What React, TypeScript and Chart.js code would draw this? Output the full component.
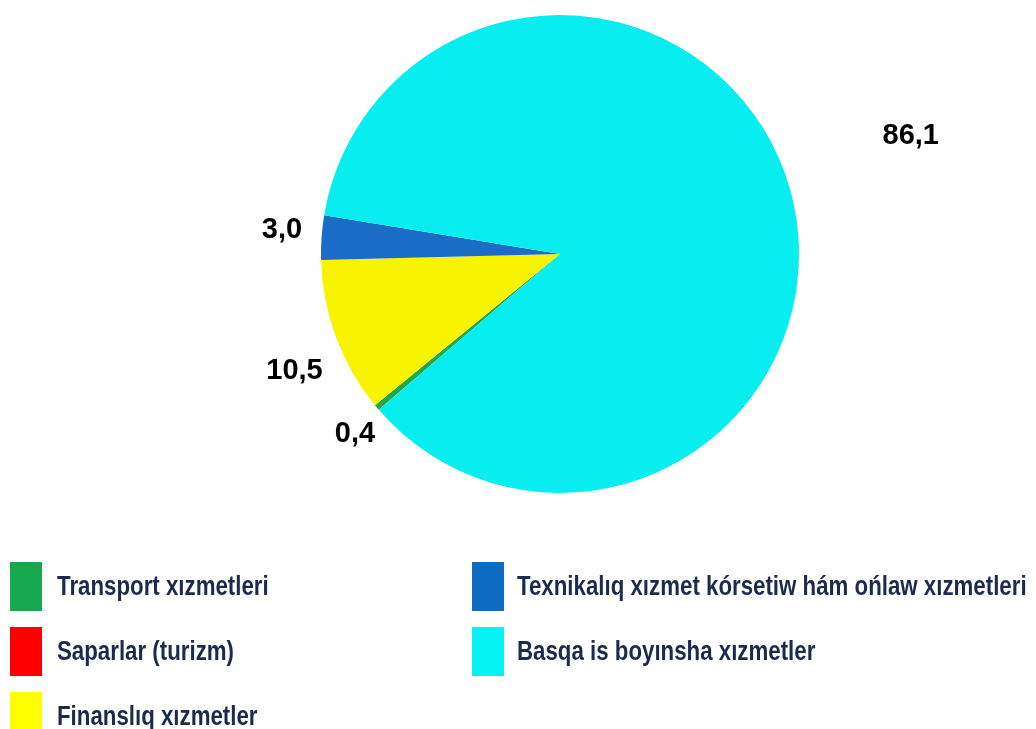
import React, { useEffect, useRef } from "react";
import { Chart, registerables } from "chart.js";

Chart.register(...registerables);

const categories = [
  "Transport xızmetleri",
  "Saparlar (turizm)",
  "Finanslıq xızmetler",
  "Texnikalıq xızmet kórsetiw hám ońlaw xızmetleri",
  "Basqa is boyınsha xızmetler",
];
const shares = [0.4, 0.0, 10.5, 3.0, 86.1];
const sliceColors = ["#22a84a", "#ff0000", "#f8f400", "#1b6cc6", "#08eef0"];
const legendColors = ["#17a850", "#ff0000", "#ffff00", "#0d6bc3", "#05f3f5"];

// label placement: [radius factor, angle offset in degrees]
const labelPlacement = [
  [1.138, -1.1],
  [1.2, 0],
  [1.212, -3.2],
  [1.168, 1.3],
  [1.55, -3.1],
];

const valueLabels = {
  id: "valueLabels",
  afterDatasetsDraw(chart: any) {
    const ctx = chart.ctx;
    const meta = chart.getDatasetMeta(0);
    ctx.save();
    ctx.font = "bold 29px 'Liberation Sans', Arial, sans-serif";
    ctx.fillStyle = "#000";
    ctx.textAlign = "center";
    ctx.textBaseline = "middle";
    meta.data.forEach((arc: any, i: number) => {
      const v = shares[i];
      if (!v) return;
      const p = arc.getProps(["x", "y", "startAngle", "endAngle", "outerRadius"], true);
      const [f, off] = labelPlacement[i];
      const mid = (p.startAngle + p.endAngle) / 2 + (off * Math.PI) / 180;
      const r = p.outerRadius * f;
      ctx.fillText(v.toFixed(1).replace(".", ","), p.x + Math.cos(mid) * r, p.y + Math.sin(mid) * r + 1);
    });
    ctx.restore();
  },
};

function Legend() {
  const items = categories.map((c, i) => ({ c, i }));
  const col = (list: { c: string; i: number }[], sqLeft: number, textLeft: number) =>
    list.map(({ c, i }, k) => (
      <React.Fragment key={c}>
        <div
          style={{ position: "absolute", left: sqLeft, top: 562 + k * 65, width: 32, height: 49, background: legendColors[i] }}
        />
        <div
          style={{
            position: "absolute",
            left: textLeft,
            top: 562 + k * 65,
            height: 49,
            font: "bold 27px/49px 'Liberation Sans', Arial, sans-serif",
            color: "#1c2a4e",
            whiteSpace: "nowrap",
            transform: "scaleX(0.825)",
            transformOrigin: "0 50%",
          }}
        >
          {c}
        </div>
      </React.Fragment>
    ));
  return (
    <>
      {col(items.slice(0, 3), 10, 57)}
      {col(items.slice(3), 472, 517)}
    </>
  );
}

export default function App() {
  const ref = useRef<HTMLCanvasElement | null>(null);
  useEffect(() => {
    if (!ref.current) return;
    const chart = new Chart(ref.current, {
      type: "pie",
      data: {
        labels: categories,
        datasets: [
          {
            data: shares,
            backgroundColor: sliceColors,
            borderWidth: 0,
          },
        ],
      },
      options: {
        responsive: false,
        animation: false,
        rotation: 229.3,
        layout: { padding: { top: 15, bottom: 236, left: 321, right: 237 } },
        plugins: { legend: { display: false }, tooltip: { enabled: false } },
      },
      plugins: [valueLabels],
    });
    return () => chart.destroy();
  }, []);
  return (
    <div style={{ position: "absolute", left: 0, top: 0, width: 1036, height: 729, background: "#fff", overflow: "hidden" }}>
      <canvas ref={ref} width={1036} height={729} style={{ position: "absolute", left: 0, top: 0 }} />
      <Legend />
    </div>
  );
}
